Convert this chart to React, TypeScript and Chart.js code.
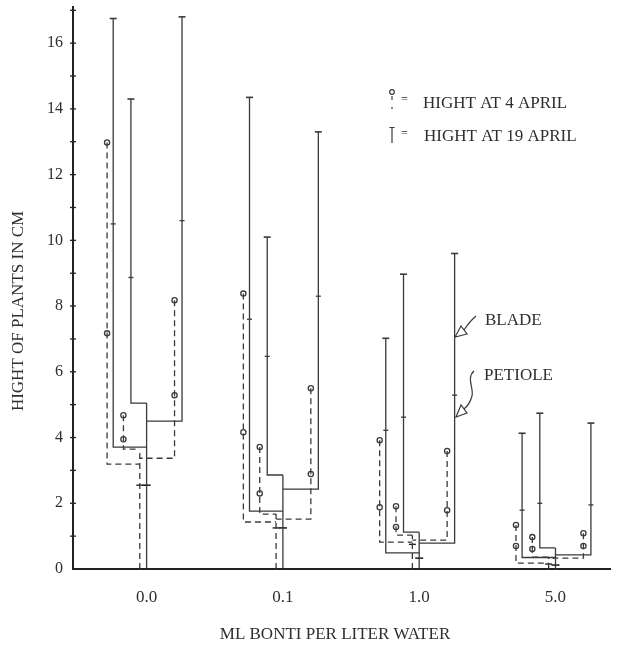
import { useEffect, useRef } from "react";
import { Chart, registerables } from "chart.js";

Chart.register(...registerables);

// ---- data (values in cm) ----
const groups = ["0.0", "0.1", "1.0", "5.0"];
const yTickValues = [0, 2, 4, 6, 8, 10, 12, 14, 16];

// 19 April (solid): stem height, stem mark, leaf base / petiole-blade junction / leaf top
const stemTop19 = [5.05, 2.86, 1.12, 0.64];
const stemMark19 = [2.55, 1.25, 0.33, 0.12];
const base19 = [
  [3.71, 5.05, 4.5],
  [1.76, 2.86, 2.43],
  [0.49, 1.12, 0.79],
  [0.35, 0.64, 0.43],
];
const petiole19 = [
  [10.5, 8.87, 10.6],
  [7.6, 6.47, 8.3],
  [4.22, 4.62, 5.29],
  [1.79, 2.0, 1.95],
];
const top19 = [
  [16.75, 14.3, 16.8],
  [14.35, 10.1, 13.3],
  [7.02, 8.97, 9.6],
  [4.13, 4.74, 4.44],
];

// 4 April (dashed)
const stemTop4 = [3.65, 1.67, 1.03, 0.36];
const stemMark4 = [2.55, 1.25, 0.75, 0.15];
const base4 = [
  [3.19, 3.65, 3.37],
  [1.43, 1.67, 1.52],
  [0.82, 1.03, 0.88],
  [0.18, 0.36, 0.33],
];
const petiole4 = [
  [7.17, 3.95, 5.29],
  [4.16, 2.3, 2.89],
  [1.88, 1.28, 1.79],
  [0.7, 0.61, 0.7],
];
const top4 = [
  [12.98, 4.68, 8.18],
  [8.38, 3.71, 5.5],
  [3.92, 1.91, 3.59],
  [1.34, 0.97, 1.09],
];

// ---- layout (offsets from group centre, in category units) ----
const STEM19_OFF = 0;
const LEAF19_OFF = [-0.245, -0.115, 0.26];
const STEM4_OFF = -0.05;
const LEAF4_OFF = [-0.29, -0.17, 0.205];

const FONT = "'Liberation Serif', 'Times New Roman', serif";
const INK = "#2e2e2e";
const LINE = "#3a3a3a";

function plantDatasets(
  stemOff: number,
  leafOff: number[],
  stemTop: number[],
  base: number[][],
  top: number[][],
  dashed: boolean
) {
  const out: any[] = [];
  const common = {
    type: "scatter",
    showLine: true,
    pointRadius: 0,
    borderColor: LINE,
    borderWidth: 1.3,
    borderDash: dashed ? [6, 4] : [],
    fill: false,
    tension: 0,
  };
  groups.forEach((_, g) => {
    const sx = g + stemOff;
    out.push({ ...common, data: [{ x: sx, y: 0 }, { x: sx, y: stemTop[g] }] });
    leafOff.forEach((off, i) => {
      const lx = g + off;
      out.push({
        ...common,
        data: [
          { x: lx, y: top[g][i] },
          { x: lx, y: base[g][i] },
          { x: sx, y: base[g][i] },
        ],
      });
    });
  });
  return out;
}

function markerData(off: number[], vals: number[][]) {
  const pts: any[] = [];
  groups.forEach((_, g) => off.forEach((o, i) => pts.push({ x: g + o, y: vals[g][i] })));
  return pts;
}

const decorPlugin = {
  id: "decor",
  afterDraw(chart: any) {
    const ctx = chart.ctx;
    const ys = chart.scales.y;
    const left = chart.chartArea.left;
    ctx.save();
    // y-axis integer cross ticks
    ctx.strokeStyle = "#222";
    ctx.lineWidth = 1.3;
    for (let v = 1; v <= 17; v++) {
      const y = ys.getPixelForValue(v);
      ctx.beginPath();
      ctx.moveTo(left - 3, y);
      ctx.lineTo(left + 3, y);
      ctx.stroke();
    }
    ctx.fillStyle = INK;
    ctx.font = `17px ${FONT}`;
    ctx.textBaseline = "middle";
    // y title
    ctx.save();
    ctx.translate(19, 311);
    ctx.rotate(-Math.PI / 2);
    ctx.textAlign = "center";
    ctx.fillText("HIGHT OF PLANTS IN CM", 0, 0);
    ctx.restore();
    // x title
    ctx.textAlign = "center";
    ctx.fillText("ML BONTI PER LITER WATER", 335, 635);
    // legend
    ctx.textAlign = "left";
    ctx.fillText("HIGHT AT 4 APRIL", 423, 104);
    ctx.fillText("HIGHT AT 19 APRIL", 424, 137);
    ctx.font = `12px ${FONT}`;
    ctx.fillText("=", 401, 100);
    ctx.fillText("=", 401, 134);
    ctx.strokeStyle = LINE;
    ctx.lineWidth = 1.2;
    ctx.beginPath();
    ctx.arc(392, 92, 2.3, 0, Math.PI * 2);
    ctx.stroke();
    ctx.beginPath();
    ctx.moveTo(392, 96);
    ctx.lineTo(392, 100);
    ctx.moveTo(392, 107);
    ctx.lineTo(392, 109);
    ctx.stroke();
    ctx.beginPath();
    ctx.moveTo(389.5, 127.5);
    ctx.lineTo(394.5, 127.5);
    ctx.moveTo(392, 127.5);
    ctx.lineTo(392, 143);
    ctx.stroke();
    // BLADE / PETIOLE labels
    ctx.font = `17px ${FONT}`;
    ctx.fillText("BLADE", 485, 321);
    ctx.fillText("PETIOLE", 484, 376);
    // arrows
    ctx.lineWidth = 1.2;
    ctx.beginPath();
    ctx.moveTo(476, 316);
    ctx.quadraticCurveTo(470, 321, 464, 330);
    ctx.stroke();
    ctx.beginPath();
    ctx.moveTo(455, 337);
    ctx.lineTo(461, 326);
    ctx.lineTo(467, 334);
    ctx.closePath();
    ctx.stroke();
    ctx.beginPath();
    ctx.moveTo(474, 371);
    ctx.bezierCurveTo(466, 378, 474, 388, 472, 396);
    ctx.quadraticCurveTo(470, 404, 464, 409);
    ctx.stroke();
    ctx.beginPath();
    ctx.moveTo(456, 417);
    ctx.lineTo(461, 405);
    ctx.lineTo(467, 413);
    ctx.closePath();
    ctx.stroke();
    ctx.restore();
  },
};

export default function App() {
  const ref = useRef<HTMLCanvasElement | null>(null);

  useEffect(() => {
    if (!ref.current) return;
    const datasets: any[] = [
      ...plantDatasets(STEM19_OFF, LEAF19_OFF, stemTop19, base19, top19, false),
      ...plantDatasets(STEM4_OFF, LEAF4_OFF, stemTop4, base4, top4, true),
      {
        type: "scatter",
        data: markerData(LEAF19_OFF, top19),
        pointStyle: "line",
        pointRadius: 3.5,
        borderColor: LINE,
        borderWidth: 1.6,
      },
      {
        type: "scatter",
        data: markerData(LEAF19_OFF, petiole19),
        pointStyle: "line",
        pointRadius: 2.5,
        borderColor: LINE,
        borderWidth: 1.3,
      },
      {
        type: "scatter",
        data: groups.map((_, g) => ({ x: g + STEM19_OFF, y: stemMark19[g] })),
        pointStyle: "line",
        pointRadius: 4,
        borderColor: "#222",
        borderWidth: 1.6,
      },
      {
        type: "scatter",
        data: groups.map((_, g) => ({ x: g + STEM4_OFF, y: stemMark4[g] })),
        pointStyle: "line",
        pointRadius: 3.5,
        borderColor: "#222",
        borderWidth: 1.4,
      },
      {
        type: "scatter",
        data: [...markerData(LEAF4_OFF, top4), ...markerData(LEAF4_OFF, petiole4)],
        pointStyle: "circle",
        pointRadius: 2.6,
        backgroundColor: "#ffffff",
        borderColor: LINE,
        borderWidth: 1.3,
      },
    ];

    const chart = new Chart(ref.current, {
      type: "scatter",
      data: { datasets },
      options: {
        responsive: false,
        animation: false,
        events: [],
        layout: { padding: { top: 7, right: 9, left: 0, bottom: 0 } },
        plugins: { legend: { display: false }, tooltip: { enabled: false } },
        scales: {
          x: {
            type: "linear",
            min: -0.54,
            max: 3.4,
            afterBuildTicks: (s: any) => {
              s.ticks = groups.map((_, i) => ({ value: i }));
            },
            afterFit: (s: any) => {
              s.height = 80;
              s.paddingLeft = 0;
              s.paddingRight = 0;
            },
            ticks: {
              callback: (v: any) => groups[v] ?? "",
              font: { family: FONT, size: 17 },
              color: INK,
              padding: 18,
              maxRotation: 0,
              autoSkip: false,
            },
            grid: { display: true, drawOnChartArea: false, drawTicks: false },
            border: { display: true, color: "#222", width: 2 },
          },
          y: {
            type: "linear",
            min: 0,
            max: 17.1,
            afterBuildTicks: (s: any) => {
              s.ticks = yTickValues.map((v) => ({ value: v }));
            },
            afterFit: (s: any) => {
              s.width = 73;
              s.paddingTop = 0;
              s.paddingBottom = 0;
            },
            ticks: {
              font: { family: FONT, size: 16 },
              color: INK,
              padding: 10,
              autoSkip: false,
            },
            grid: { display: true, drawOnChartArea: false, drawTicks: false },
            border: { display: true, color: "#222", width: 2 },
          },
        },
      },
      plugins: [decorPlugin],
    } as any);
    return () => chart.destroy();
  }, []);

  return (
    <div style={{ position: "fixed", left: 0, top: 0, width: 619, height: 649, background: "#fff" }}>
      <canvas ref={ref} width={619} height={649} style={{ display: "block" }} />
    </div>
  );
}
